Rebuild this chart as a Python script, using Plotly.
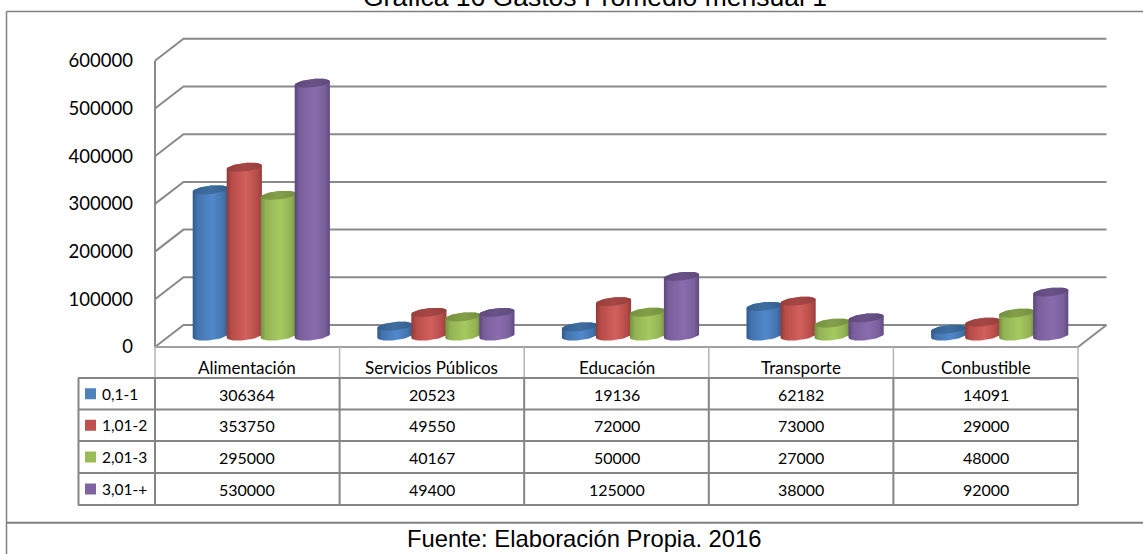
import numpy as np
import plotly.graph_objects as go

TITLE = "Gráfica 16 Gastos Promedio mensual 1"
FOOTER = "Fuente: Elaboración Propia. 2016"
CATEGORIES = ["Alimentación", "Servicios Públicos", "Educación", "Transporte", "Conbustible"]
SERIES = ["0,1-1", "1,01-2", "2,01-3", "3,01-+"]
VALUES_0 = [306364, 20523, 19136, 62182, 14091]
VALUES_1 = [353750, 49550, 72000, 73000, 29000]
VALUES_2 = [295000, 40167, 50000, 27000, 48000]
VALUES_3 = [530000, 49400, 125000, 38000, 92000]
TICKS = [0, 100000, 200000, 300000, 400000, 500000, 600000]

ALL_VALUES = [VALUES_0, VALUES_1, VALUES_2, VALUES_3]
KEY_COLORS = ["#4f81bd", "#c0504d", "#9bbb59", "#8064a2"]
SIDE_SCALES = [
    ["#31598a", "#4474ae", "#5089cc", "#4474ae", "#34608f"],
    ["#8e3a38", "#b84c49", "#d2605c", "#b84c49", "#93403d"],
    ["#74903f", "#93b354", "#a6c95f", "#93b354", "#76923f"],
    ["#5c4679", "#7a5f9c", "#8a6cae", "#7a5f9c", "#5f4a7c"],
]
TOP_COLORS = [
    ["#335f8e", "#3f6e9f"],
    ["#96403d", "#a64744"],
    ["#748f40", "#83a049"],
    ["#5f4a7c", "#6a5288"],
]

W, H = 1143, 554
CAT_PX = 184.6           # px per category
VAL_PX = 47.7 / 100000   # px per unit of value
X0_PX, Y0_PX = 155.0, 347.0
LEFT_PX, RIGHT_PX, TOP_PX, BOTTOM_PX = 150.0, 1112.0, 34.0, 352.0

DEPTH_X = 28.5 / CAT_PX
DEPTH_Y = 22.0 / VAL_PX
BAR_SHIFT_X = 14.0 / CAT_PX
BAR_SHIFT_Y = 11.0 / VAL_PX
BAR_PITCH = 34.0 / CAT_PX
RX = 17.6 / CAT_PX
RY = 4.2 / VAL_PX
SHEAR = 1.8 / VAL_PX
N = len(CATEGORIES)
GRID = "#8a8a8a"
LINE = "#858585"
FONT = "Lato"


def xp(px):
    return px / W


def yp(py):
    return 1 - py / H


fig = go.Figure()

# back wall grid, drawn with the axis scales
gx, gy = [], []
for v in TICKS:
    gx += [0, DEPTH_X, N + DEPTH_X, None]
    gy += [v, v + DEPTH_Y, v + DEPTH_Y, None]
gx += [0, 0, None, 0, N, N + DEPTH_X]
gy += [0, TICKS[-1], None, 0, 0, DEPTH_Y]
fig.add_trace(go.Scatter(x=gx, y=gy, mode="lines", line=dict(color=GRID, width=2),
                         hoverinfo="skip", showlegend=False))

angle_front = np.linspace(np.pi, 2 * np.pi, 40)
angle_back = np.linspace(0, np.pi, 40)
angle_all = np.linspace(0, 2 * np.pi, 80)

for c in range(N):
    for s, name in enumerate(SERIES):
        value = ALL_VALUES[s][c]
        cx = c + 0.5 + BAR_SHIFT_X + (s - 1.5) * BAR_PITCH
        base = BAR_SHIFT_Y
        top = value + BAR_SHIFT_Y
        sx = np.concatenate([cx + RX * np.cos(angle_front), cx + RX * np.cos(angle_back)])
        sy = np.concatenate([
            base + RY * np.sin(angle_front) + SHEAR * np.cos(angle_front),
            top + RY * np.sin(angle_back) + SHEAR * np.cos(angle_back),
        ])
        stops = [0, 0.14, 0.55, 0.86, 1]
        fig.add_trace(go.Scatter(
            x=sx, y=sy, mode="lines", fill="toself", line=dict(width=0),
            fillgradient=dict(type="horizontal",
                              colorscale=[[p, col] for p, col in zip(stops, SIDE_SCALES[s])]),
            name=name, hoverinfo="skip", showlegend=False))
        fig.add_trace(go.Scatter(
            x=cx + RX * np.cos(angle_all),
            y=top + RY * np.sin(angle_all) + SHEAR * np.cos(angle_all),
            mode="lines", fill="toself", line=dict(width=0),
            fillgradient=dict(type="horizontal",
                              colorscale=[[0, TOP_COLORS[s][0]], [0.5, TOP_COLORS[s][1]], [1, TOP_COLORS[s][0]]]),
            name=name, hoverinfo="skip", showlegend=False))

shapes = []


def line(x0, y0, x1, y1, color=LINE, width=2):
    shapes.append(dict(type="line", xref="paper", yref="paper", x0=xp(x0), y0=yp(y0),
                       x1=xp(x1), y1=yp(y1), line=dict(color=color, width=width)))


# outer frame
line(6.5, 11.5, W, 11.5, "#808080", 1.5)
line(6.5, 11.5, 6.5, H, "#808080", 1.5)
line(6, 522.7, W, 522.7, "#808080", 2)

# data table
ROW_Y = [378, 409.5, 441, 473, 505]
TABLE_R = X0_PX + CAT_PX * N
line(X0_PX, 347, TABLE_R, 347, "#a0a0a0", 2)
for i in range(N + 1):
    px = X0_PX + CAT_PX * i
    line(px, 347, px, ROW_Y[0], "#b4b4b4", 1.5)
    line(px, ROW_Y[0], px, ROW_Y[-1], LINE, 2)
line(78.5, ROW_Y[0], 78.5, ROW_Y[-1], LINE, 2)
for ry in ROW_Y:
    line(78, ry, TABLE_R, ry, LINE, 2)

annotations = []


def label(text, px, py, size, family=FONT, anchor="center"):
    annotations.append(dict(text=text, xref="paper", yref="paper", x=xp(px), y=yp(py),
                            xanchor=anchor, yanchor="middle", showarrow=False,
                            font=dict(family=family, size=size, color="#000000")))


for i, cat in enumerate(CATEGORIES):
    px = X0_PX + CAT_PX * (i + 0.5)
    label(cat, px, 367, 17)
    for s in range(len(SERIES)):
        label(str(ALL_VALUES[s][i]), px, (ROW_Y[s] + ROW_Y[s + 1]) / 2 + 0.5, 16)

for s, name in enumerate(SERIES):
    mid = (ROW_Y[s] + ROW_Y[s + 1]) / 2
    shapes.append(dict(type="rect", xref="paper", yref="paper", x0=xp(85), x1=xp(96),
                       y0=yp(mid - 5.5), y1=yp(mid + 5.5),
                       fillcolor=KEY_COLORS[s], line=dict(width=0)))
    label(name, 99.5, mid, 15.5, anchor="left")

label(TITLE, 595, -2.5, 26.5, "Liberation Sans")
label(FOOTER, 584, 538, 23.8, "Liberation Sans")

fig.update_layout(
    width=W, height=H, autosize=False,
    margin=dict(l=0, r=0, t=0, b=0, autoexpand=False),
    paper_bgcolor="#ffffff", plot_bgcolor="#ffffff",
    showlegend=False, shapes=shapes, annotations=annotations,
    xaxis=dict(domain=[xp(LEFT_PX), xp(RIGHT_PX)],
               range=[(LEFT_PX - X0_PX) / CAT_PX, (RIGHT_PX - X0_PX) / CAT_PX],
               visible=False, fixedrange=True),
    yaxis=dict(domain=[yp(BOTTOM_PX), yp(TOP_PX)],
               range=[(Y0_PX - BOTTOM_PX) / VAL_PX, (Y0_PX - TOP_PX) / VAL_PX],
               tickmode="array", tickvals=TICKS, ticktext=[str(t) for t in TICKS],
               showgrid=False, zeroline=False, showline=False, ticks="",
               ticklabelstandoff=16,
               tickfont=dict(family=FONT, size=18.5, color="#000000"),
               fixedrange=True),
)

fig.write_html("out.html", config=dict(displayModeBar=False),
               post_script="document.body.style.margin='0';document.body.style.overflow='hidden';")
